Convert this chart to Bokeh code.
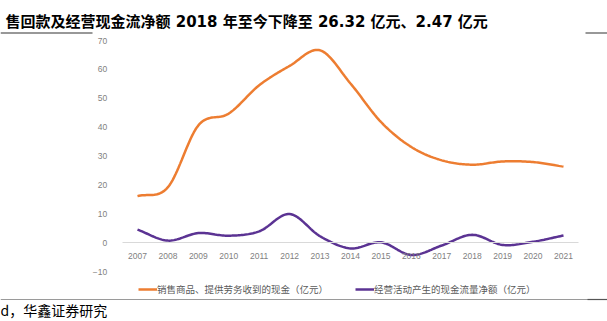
import numpy as np
from bokeh.plotting import figure
from bokeh.models import (FixedTicker, Legend, LegendItem, Label, BoxAnnotation)
from bokeh.embed import file_html
from bokeh.resources import INLINE

years = [2007, 2008, 2009, 2010, 2011, 2012, 2013, 2014, 2015, 2016, 2017, 2018, 2019, 2020, 2021]
sales_cash = [16.1, 19.2, 40.6, 44.7, 54.5, 61.2, 66.6, 55.1, 41.8, 33.1, 28.5, 27.0, 28.1, 27.9, 26.32]
op_cash = [4.5, 0.7, 3.3, 2.4, 3.9, 9.9, 2.2, -2.0, 0.1, -4.3, -1.0, 2.7, -0.8, 0.3, 2.47]
series_names = ["销售商品、提供劳务收到的现金（亿元）", "经营活动产生的现金流量净额（亿元）"]
y_ticks = [-10, 0, 10, 20, 30, 40, 50, 60, 70]
title_text = "售回款及经营现金流净额 2018 年至今下降至 26.32 亿元、2.47 亿元"
source_text = "d，华鑫证券研究"

ORANGE = "#ED7D31"
PURPLE = "#5B3393"
CJK = "Noto Sans CJK SC"
W, H = 607, 321


def smooth(xs, ys, n=20):
    # Catmull-Rom style smoothing for drawing the curve through the read points
    xs = np.asarray(xs, float)
    ys = np.asarray(ys, float)
    outx, outy = [], []
    m = len(xs)
    for i in range(m - 1):
        x0, x1 = xs[i], xs[i + 1]
        y0, y1 = ys[i], ys[i + 1]
        a, b = max(i - 1, 0), min(i + 1, m - 1)
        tx0 = (xs[b] - xs[a]) / (b - a)
        ty0 = (ys[b] - ys[a]) / (b - a)
        a, b = i, min(i + 2, m - 1)
        tx1 = (xs[b] - xs[a]) / (b - a)
        ty1 = (ys[b] - ys[a]) / (b - a)
        t = np.linspace(0, 1, n, endpoint=(i == m - 2))
        h00 = 2 * t**3 - 3 * t**2 + 1
        h10 = t**3 - 2 * t**2 + t
        h01 = -2 * t**3 + 3 * t**2
        h11 = t**3 - t**2
        outx.extend(h00 * x0 + h10 * tx0 + h01 * x1 + h11 * tx1)
        outy.extend(h00 * y0 + h10 * ty0 + h01 * y1 + h11 * ty1)
    return outx, outy


# frame fills the whole canvas; axes sit at fixed locations inside it
px_per_year = (563 - 137) / (years[-1] - years[0])
x0 = years[0] - 137 / px_per_year
x1 = years[-1] + (W - 563) / px_per_year
px_per_unit = (271 - 40) / (y_ticks[-1] - y_ticks[0])
y1 = y_ticks[-1] + 40 / px_per_unit
y0 = y_ticks[0] - (H - 271) / px_per_unit

p = figure(width=W, height=H, output_backend="svg", toolbar_location=None,
           x_range=(x0, x1), y_range=(y0, y1),
           min_border=0, min_border_left=0, min_border_right=0,
           min_border_top=0, min_border_bottom=0)
p.outline_line_color = None
p.grid.visible = False
p.background_fill_color = "white"
p.border_fill_color = "white"

sx, sy = smooth(years, sales_cash)
ox, oy = smooth(years, op_cash)
r1 = p.line(sx, sy, line_color=ORANGE, line_width=2.5)
r2 = p.line(ox, oy, line_color=PURPLE, line_width=2.5)

p.yaxis.fixed_location = years[0] - 0.5
p.yaxis.ticker = FixedTicker(ticks=y_ticks)
p.yaxis.axis_line_color = None
p.yaxis.major_tick_line_color = None
p.yaxis.minor_tick_line_color = None
p.yaxis.major_label_text_color = "#7f7f7f"
p.yaxis.major_label_text_font_size = "8.5px"
p.yaxis.major_label_text_font = "Arial"
p.yaxis.major_label_standoff = 9

p.xaxis.fixed_location = 0
p.xaxis.bounds = (years[0] - 0.5, years[-1] + 0.5)
p.xaxis.ticker = FixedTicker(ticks=years)
p.xaxis.axis_line_color = "#d9d9d9"
p.xaxis.axis_line_width = 1
p.xaxis.major_tick_line_color = None
p.xaxis.minor_tick_line_color = None
p.xaxis.major_label_text_color = "#7f7f7f"
p.xaxis.major_label_text_font_size = "8.5px"
p.xaxis.major_label_text_font = "Arial"
p.xaxis.major_label_standoff = 4

legend = Legend(items=[LegendItem(label=series_names[0], renderers=[r1]),
                       LegendItem(label=series_names[1], renderers=[r2])],
                orientation="horizontal", location=(138, 25),
                label_text_font=CJK, label_text_font_size="9.5px", label_text_color="#595959",
                glyph_width=19, glyph_height=10, label_standoff=0, spacing=27,
                padding=0, margin=0, border_line_color=None, background_fill_alpha=0)
p.add_layout(legend, "center")

p.add_layout(Label(x=5, y=H - 21, x_units="screen", y_units="screen",
                   text=title_text, text_font="DejaVu Sans, Noto Sans CJK SC", text_font_size="15px",
                   text_font_style="bold", text_color="#000000", text_baseline="middle"))
p.add_layout(Label(x=0, y=H - 309, x_units="screen", y_units="screen",
                   text=source_text, text_font=CJK, text_font_size="14px",
                   text_color="#000000", text_baseline="middle"))


def rule(left, right, ypix, color):
    p.add_layout(BoxAnnotation(left=left, right=right, top=H - ypix + 0.6, bottom=H - ypix - 0.6,
                               left_units="screen", right_units="screen",
                               top_units="screen", bottom_units="screen",
                               fill_color=color, fill_alpha=1, line_color=None))


rule(0, 92, 32.5, "#333333")
rule(585, W, 32.5, "#333333")
rule(0, W, 299, "#9a9a9a")
rule(587, W, 299, "#555555")

open("out.html", "w").write(file_html(p, INLINE))
